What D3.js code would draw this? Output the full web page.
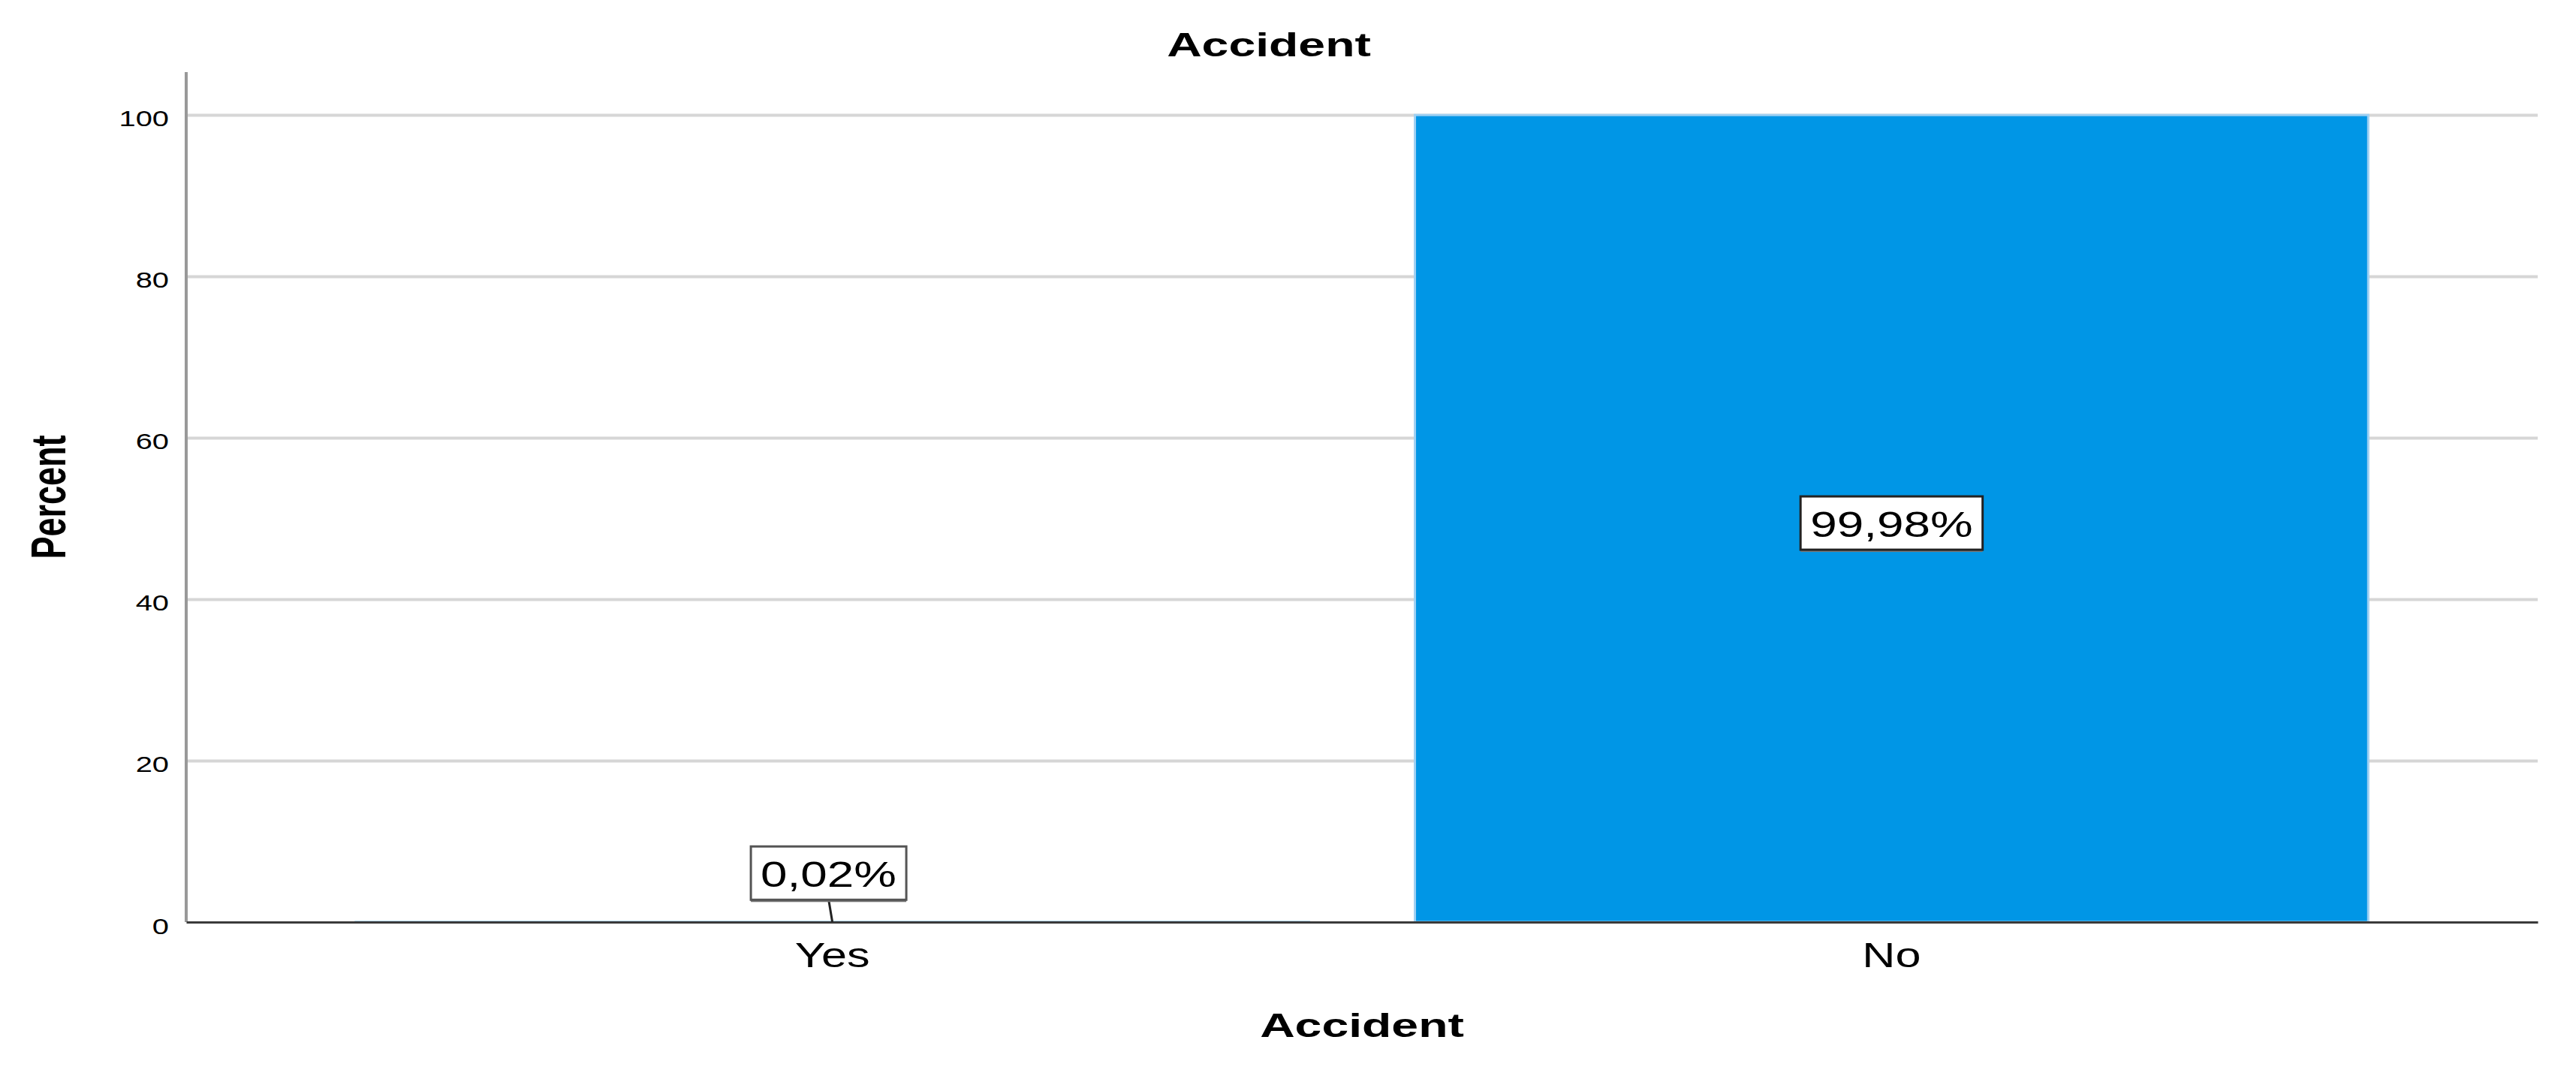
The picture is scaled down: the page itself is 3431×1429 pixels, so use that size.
<!DOCTYPE html>
<html>
<head>
	<meta charset="utf-8">
	<title>Accident</title>
	<style type="text/css">
		body {
			margin: 0;
			background: white;
		}

		text {
			font-family: "Liberation Sans", Arial, sans-serif;
			fill: black;
		}

		.chart-title, .axis-title {
			font-weight: bold;
			font-size: 45px;
		}

		.tick-lbl {
			font-size: 30px;
		}

		.cat-lbl {
			font-size: 46px;
		}

		.val-lbl {
			font-size: 48px;
		}

		.grid line {
			stroke: #d6d6d6;
			stroke-width: 4px;
		}
	</style>
</head>
<body>

<svg id="chart"></svg>

<script type="text/javascript" src="https://d3js.org/d3.v7.min.js"></script>
<script type="text/javascript">
	var categories = ["Yes", "No"];
	var percents = [0.02, 99.98];
	var yTicks = [0, 20, 40, 60, 80, 100];

	var W = 3431, H = 1429;
	var margin = {top: 96, bottom: 201, left: 248, right: 51},
		width = W - margin.left - margin.right,
		height = H - margin.top - margin.bottom;

	// SPSS output is stretched sideways, so text gets a horizontal scale
	var sxReg = 1.33, sxBold = 1.43;

	var svg = d3.select("#chart")
		.attr("width", W)
		.attr("height", H);

	svg.append("rect")
		.attr("width", W)
		.attr("height", H)
		.attr("fill", "white");

	var chart = svg.append("g")
		.attr("transform", `translate(${margin.left}, ${margin.top})`);

	var x = d3.scaleBand()
		.domain(categories)
		.range([0, width])
		.paddingInner(0.1)
		.paddingOuter(0.16);

	var y = d3.scaleLinear()
		.domain([0, 105.3])
		.range([height, 0]);

	// gridlines
	chart.append("g")
		.attr("class", "grid")
		.call(d3.axisLeft(y).tickValues(yTicks.filter(d => d > 0)).tickSize(-width).tickFormat(""))
		.select(".domain").remove();

	// y labels
	var yAxis = chart.append("g")
		.call(d3.axisLeft(y).tickValues(yTicks).tickSize(0));
	yAxis.select(".domain").remove();
	yAxis.selectAll("text")
		.attr("class", "tick-lbl")
		.attr("x", 0)
		.attr("dy", null)
		.attr("transform", `translate(-23, 15) scale(${sxReg}, 1)`);

	// bars
	chart.selectAll(".bar")
		.data(categories)
		.enter().append("rect")
		.attr("class", "bar")
		.attr("x", d => x(d))
		.attr("y", (d, i) => y(percents[i]))
		.attr("width", x.bandwidth())
		.attr("height", (d, i) => height - y(percents[i]))
		.attr("fill", "#0096e6")
		.attr("stroke", "#9fd0f2")
		.attr("stroke-width", 3);

	// y axis line
	chart.append("line")
		.attr("x1", 0).attr("x2", 0)
		.attr("y1", 0).attr("y2", height)
		.attr("stroke", "#999")
		.attr("stroke-width", 4);

	// x axis
	var xAxis = chart.append("g")
		.attr("transform", `translate(0, ${height})`)
		.call(d3.axisBottom(x).tickSize(0).tickSizeOuter(0));
	xAxis.select(".domain")
		.attr("stroke", "#3a3a3a")
		.attr("stroke-width", 3);
	xAxis.selectAll("text")
		.attr("class", "cat-lbl")
		.attr("y", 0)
		.attr("dy", null)
		.attr("transform", `translate(0, 60) scale(${sxReg}, 1)`);

	// value labels
	var fmt = d3.format(".2f");
	categories.forEach(function(c, i) {
		var v = percents[i];
		var cx = x(c) + x.bandwidth() / 2;
		var small = v < 5;
		var cy = small ? y(v) - 65 : y(v / 2) + 6;
		var bx = small ? cx - 5 : cx;

		if (small) {
			chart.append("line")
				.attr("x1", bx).attr("y1", cy + 35)
				.attr("x2", cx).attr("y2", y(v))
				.attr("stroke", "#222")
				.attr("stroke-width", 3);
		}

		var g = chart.append("g")
			.attr("transform", `translate(${bx}, ${cy})`);

		var shadow = g.append("rect").attr("fill", "#777");
		var box = g.append("rect")
			.attr("fill", "white")
			.attr("stroke", small ? "#555" : "#222")
			.attr("stroke-width", 3);

		var t = g.append("text")
			.attr("class", "val-lbl")
			.attr("text-anchor", "middle")
			.attr("transform", `translate(0, 18) scale(${sxReg}, 1)`)
			.text(fmt(v).replace(".", ",") + "%");

		var bw = t.node().getComputedTextLength() * sxReg + 26;
		var bh = 71;
		shadow.attr("x", -bw / 2).attr("y", -bh / 2 + 3).attr("width", bw).attr("height", bh);
		box.attr("x", -bw / 2).attr("y", -bh / 2).attr("width", bw).attr("height", bh);
	});

	// titles
	svg.append("text")
		.attr("class", "chart-title")
		.attr("text-anchor", "middle")
		.attr("transform", `translate(1690, 75) scale(${sxBold}, 1)`)
		.text("Accident");

	svg.append("text")
		.attr("class", "axis-title")
		.attr("text-anchor", "middle")
		.attr("transform", `translate(${margin.left + width / 2}, 1381) scale(${sxBold}, 1)`)
		.text("Accident");

	svg.append("text")
		.attr("class", "axis-title")
		.attr("text-anchor", "middle")
		.attr("transform", `translate(87, ${margin.top + height / 2}) scale(${sxBold}, 1) rotate(-90)`)
		.text("Percent");
</script>
</body>
</html>
